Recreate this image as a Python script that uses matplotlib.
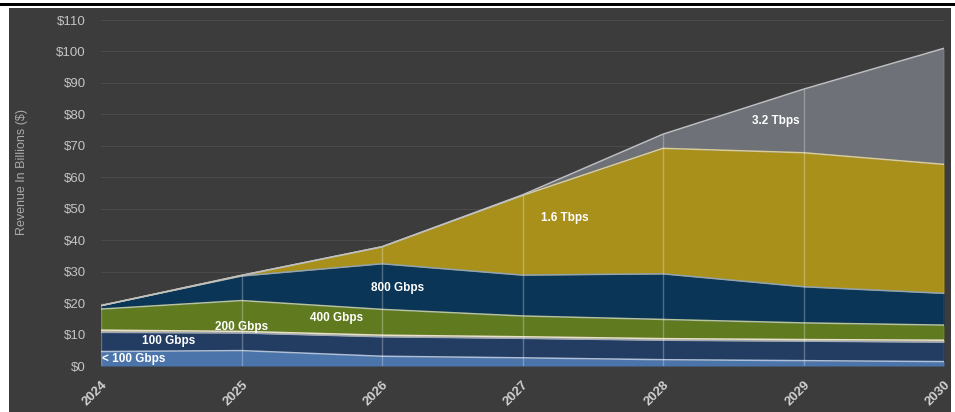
#!/usr/bin/python
# Stacked area chart of revenue by port speed

import matplotlib
matplotlib.use('Agg')
import matplotlib.pyplot as plt
from matplotlib.patches import Rectangle
import matplotlib.colors as mcolors
import numpy as np

# Global variables

years = [2024, 2025, 2026, 2027, 2028, 2029, 2030]
labels = ['< 100 Gbps', '100 Gbps', '200 Gbps', '400 Gbps', '800 Gbps', '1.6 Tbps', '3.2 Tbps']

lt100 = [4.6, 4.9, 3.1, 2.6, 2.0, 1.7, 1.4]
g100 = [6.1, 5.6, 6.2, 6.2, 6.2, 6.2, 6.2]
g200 = [0.7, 0.5, 0.5, 0.5, 0.5, 0.5, 0.6]
g400 = [6.7, 9.8, 8.2, 6.6, 6.1, 5.3, 4.8]
g800 = [1.1, 7.8, 14.5, 13.0, 14.5, 11.5, 10.1]
t16 = [0.0, 0.2, 5.4, 25.3, 39.9, 42.6, 41.0]
t32 = [0.0, 0.0, 0.0, 0.2, 4.5, 20.2, 36.9]

yticks = [0, 10, 20, 30, 40, 50, 60, 70, 80, 90, 100, 110]

myColors = ['#4a74aa', '#233d62', '#cdbb8c', '#607a20', '#0b3556', '#a8901a', '#6e7177']
bg = '#3c3c3c'
outFile = 'out.png'


def lighten(c, f):
	rgb = np.array(mcolors.to_rgb(c))
	return tuple(rgb + (1 - rgb) * f)


def main():
	series = [lt100, g100, g200, g400, g800, t16, t32]
	data = np.array(series)
	tops = np.cumsum(data, axis=0)
	x = np.array(years)

	fig = plt.figure(figsize=(9.55, 4.12), dpi=100)
	fig.patch.set_facecolor('white')
	W, H = 955., 412.
	# dark panel and the black rule at the top
	fig.patches.append(Rectangle((9 / W, 0), 942 / W, 404 / H, transform=fig.transFigure,
		facecolor=bg, edgecolor='none', zorder=-10))
	fig.patches.append(Rectangle((0, 406 / H), 1, 3 / H, transform=fig.transFigure,
		facecolor='black', edgecolor='none', zorder=-10))

	ax = fig.add_axes([101 / W, 46 / H, 843 / W, 346 / H])
	ax.set_facecolor('none')
	ax.set_zorder(5)

	for yy in yticks:
		ax.axhline(yy, color='#4b4b4b', lw=0.8, zorder=1)

	bottom = np.zeros(len(x))
	for i in range(len(series)):
		ax.fill_between(x, bottom, tops[i], color=myColors[i], lw=0, zorder=2)
		bottom = tops[i]
	for i in range(len(series)):
		ax.plot(x, tops[i], color=lighten(myColors[i], 0.55), lw=1.1, zorder=3)

	ax.vlines(x, 0, tops[-1], color=(1, 1, 1, 0.28), lw=1, zorder=4)

	# area labels
	txt = dict(color='white', fontsize=8.5, fontweight='bold', family='Liberation Sans', zorder=5)
	ax.text(2024.01, 2.2, labels[0], ha='left', va='center', **txt)
	ax.text(2024.48, 7.9, labels[1], ha='center', va='center', **txt)
	ax.text(2025.0, 12.4, labels[2], ha='center', va='center', **txt)
	ax.text(2025.68, 15.3, labels[3], ha='center', va='center', **txt)
	ax.text(2026.11, 24.8, labels[4], ha='center', va='center', **txt)
	ax.text(2027.30, 47.1, labels[5], ha='center', va='center', **txt)
	ax.text(2028.80, 77.9, labels[6], ha='center', va='center', **txt)

	ax.set_xlim(2024, 2030)
	ax.set_ylim(0, 110)
	ax.set_yticks(yticks)
	ax.set_yticklabels(['$%d' % v for v in yticks], color='#c4c4c4', fontsize=9.5,
		family='Liberation Sans')
	ax.set_xticks(years)
	ax.set_xticklabels([str(y) for y in years], rotation=45, ha='right', va='top',
		rotation_mode='anchor', color='#d0d0d0', fontsize=9.5, fontweight='bold',
		family='Liberation Sans')
	ax.tick_params(axis='y', length=0, pad=11)
	ax.tick_params(axis='x', length=0, pad=9)
	for s in ax.spines.values():
		s.set_visible(False)

	fig.text(22 / W, 0.5825, 'Revenue In Billions ($)', rotation=90, ha='center', va='center',
		color='#aaaaaa', fontsize=9, family='Liberation Sans')

	fig.savefig(outFile, dpi=100)


if __name__ == '__main__': main()
